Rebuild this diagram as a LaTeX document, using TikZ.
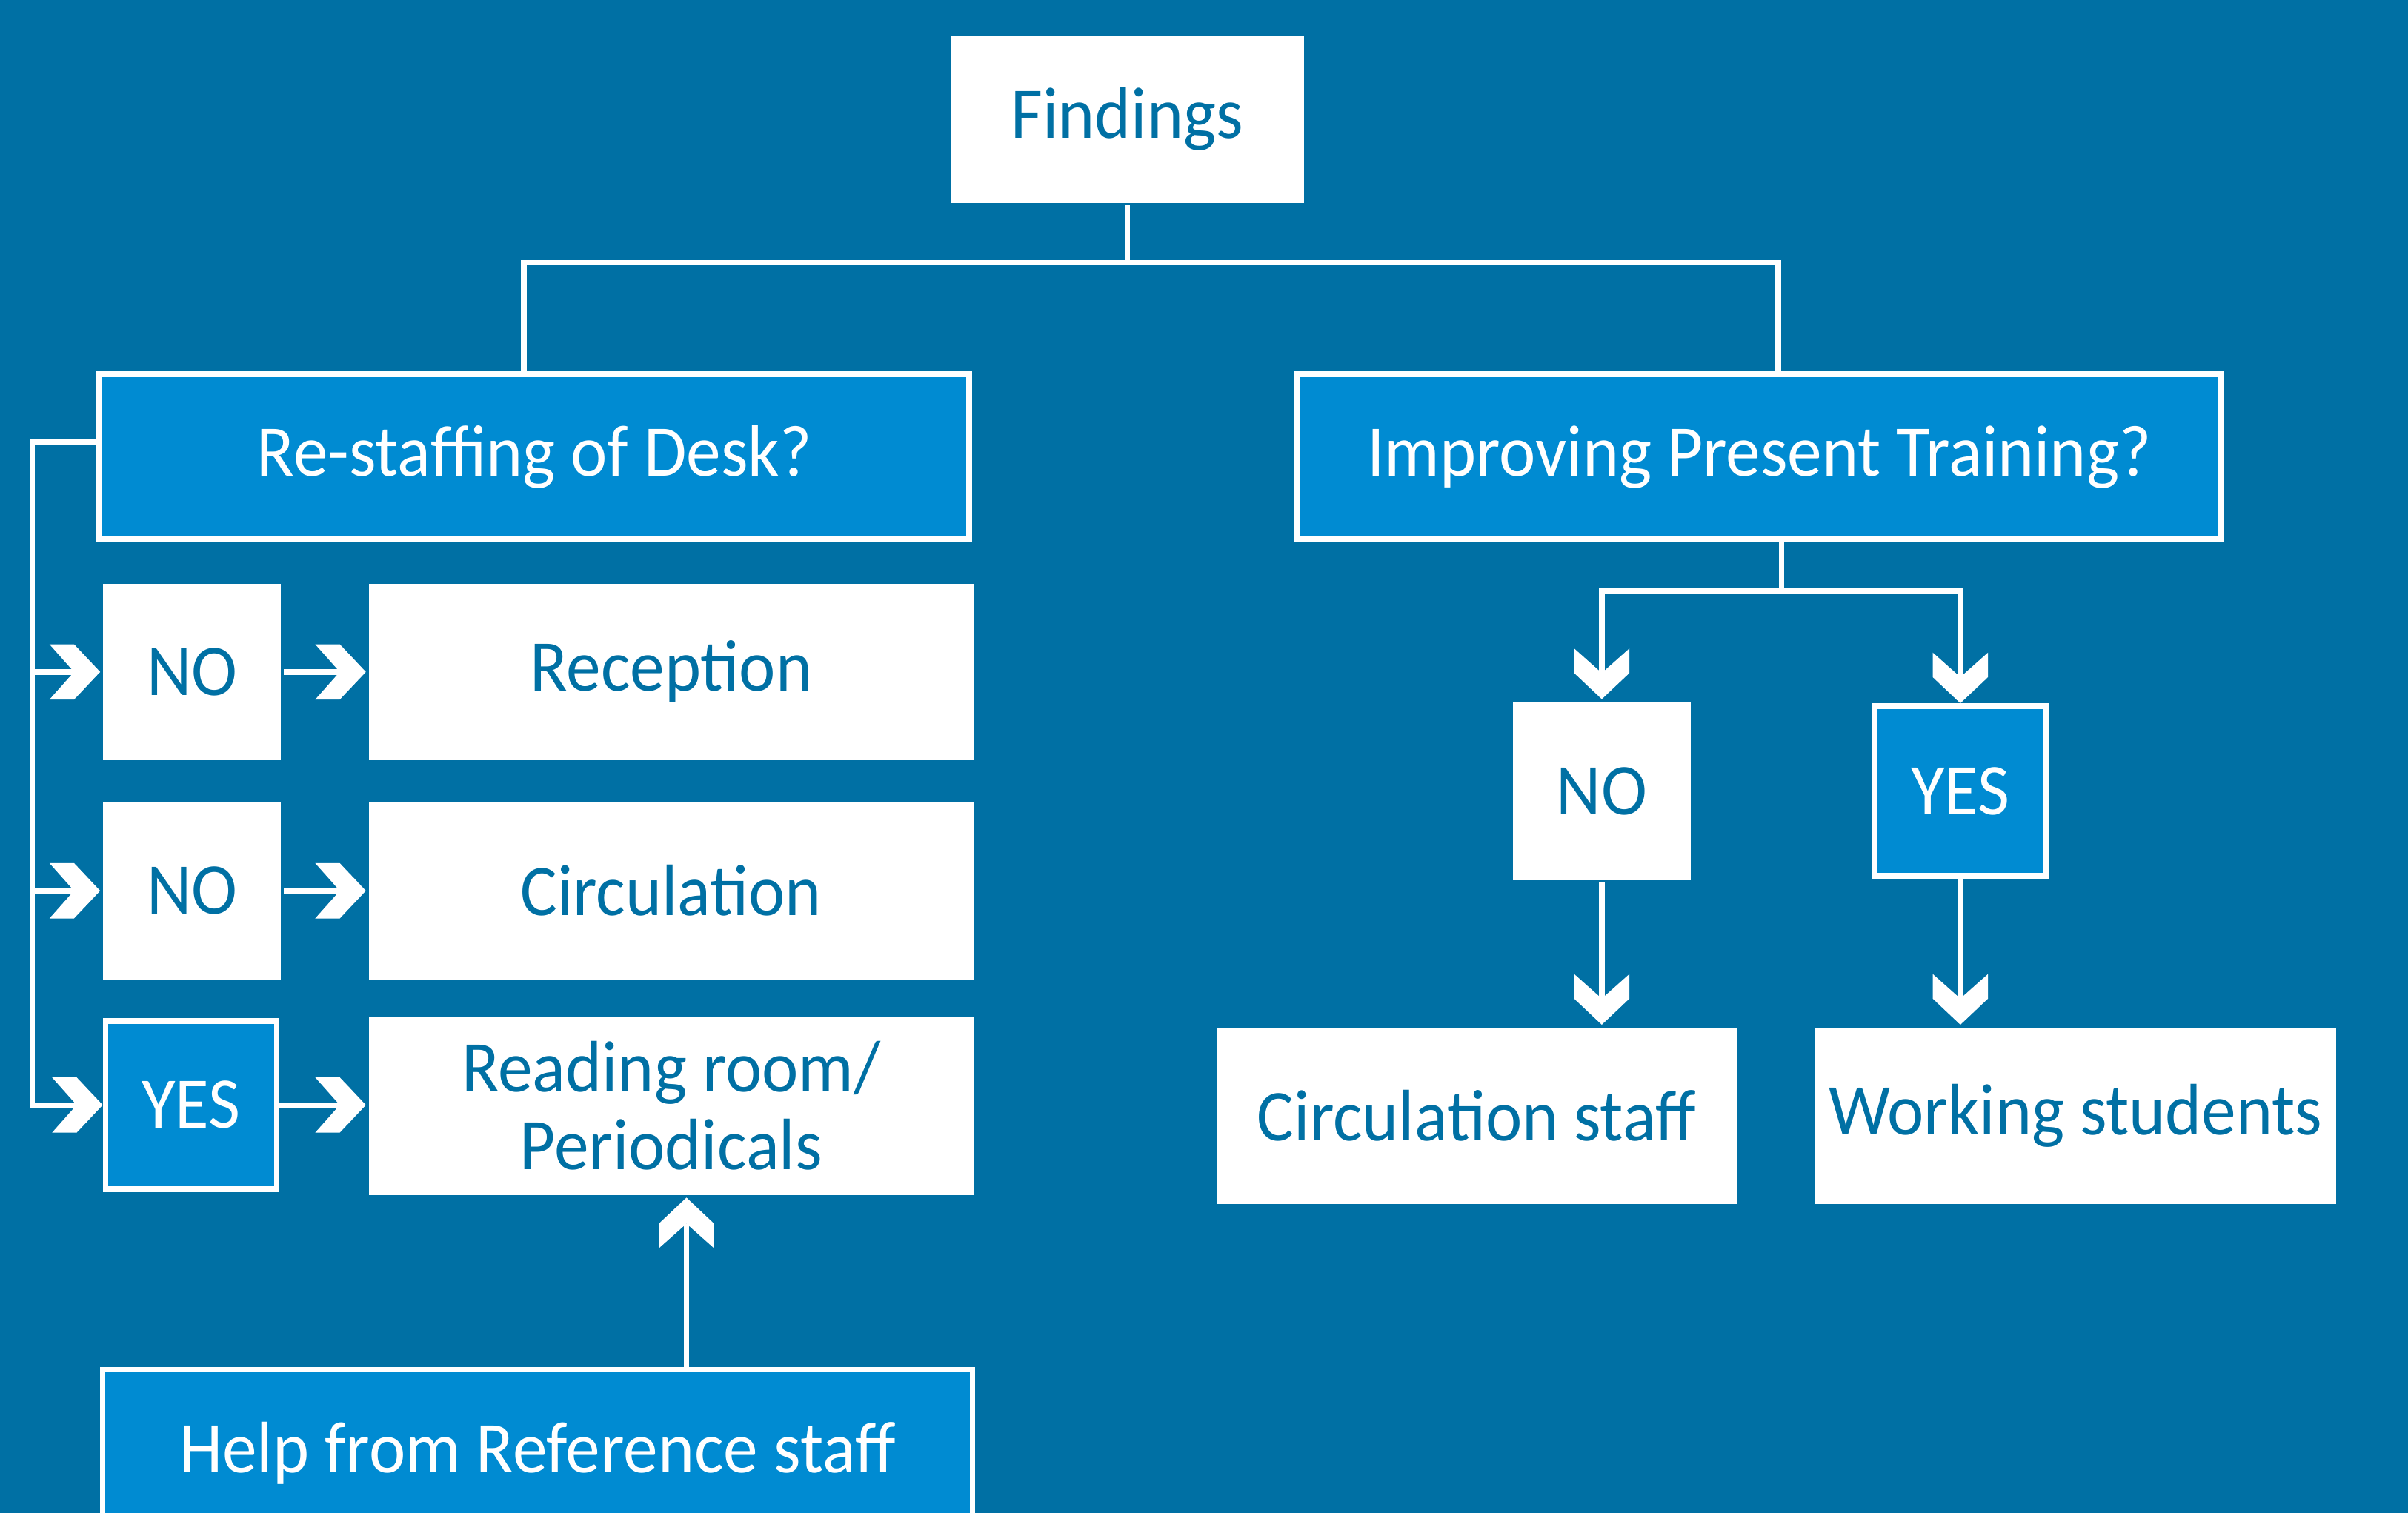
\documentclass[tikz,border=0pt]{standalone}
\usepackage{fontspec}
\setmainfont{Carlito}[FakeStretch=0.95]
\usepackage{tikz}
\usetikzlibrary{arrows}
\definecolor{deepblue}{RGB}{0,112,164}
\definecolor{midblue}{RGB}{0,139,210}

\pgfdeclarearrow{
  name = chevron,
  setup code = {
    \pgfarrowssettipend{0pt}
    \pgfarrowssetlineend{-3.4mm}
    \pgfarrowshullpoint{0pt}{0pt}
    \pgfarrowsupperhullpoint{-6.6mm}{3.6mm}
  },
  drawing code = {
    \pgfpathmoveto{\pgfpoint{0pt}{0pt}}
    \pgfpathlineto{\pgfpoint{-3.4mm}{3.6mm}}
    \pgfpathlineto{\pgfpoint{-6.6mm}{3.6mm}}
    \pgfpathlineto{\pgfpoint{-3.4mm}{0pt}}
    \pgfpathlineto{\pgfpoint{-6.6mm}{-3.6mm}}
    \pgfpathlineto{\pgfpoint{-3.4mm}{-3.6mm}}
    \pgfpathclose
    \pgfusepathqfill
  }
}

\begin{document}
\begin{tikzpicture}[x=0.02cm, y=-0.02cm, >=chevron, line width=0.072cm]
\useasboundingbox (0,0) rectangle (1568,985);
\fill[deepblue] (0,0) rectangle (1568,985);
\tikzstyle{every node} = [rectangle, inner sep=0cm, align=center, font=\fontsize{27}{29}\selectfont]
\tikzstyle{pale} = [fill=white, text=deepblue]
\tikzstyle{dark} = [fill=midblue, draw=white, text=white, line width=0.075cm]
\node[pale, minimum width=4.6cm, minimum height=2.18cm] (fi) at (734,77.5) {Findings};
\node[dark, minimum width=11.33cm, minimum height=2.15cm] (rsd) at (348,297.5) {Re-staffing of Desk?};
\node[dark, minimum width=12.03cm, minimum height=2.15cm] (ipt) at (1145.5,297.5) {Improving Present Training?};
% left column
\node[pale, minimum width=2.32cm, minimum height=2.3cm] (no1) at (125,437.5) {NO};
\node[pale, minimum width=7.88cm, minimum height=2.3cm] (rec) at (437,437.5) {Reception};
\node[pale, minimum width=2.32cm, minimum height=2.32cm] (no2) at (125,580) {NO};
\node[pale, minimum width=7.88cm, minimum height=2.32cm] (cir) at (437,580) {Circulation};
\node[dark, minimum width=2.23cm, minimum height=2.19cm] (yes1) at (124.5,719.5) {YES};
\node[pale, minimum width=7.88cm, minimum height=2.32cm] (rrp) at (437,720) {Reading room/\\Periodicals};
\node[dark, minimum width=11.33cm, minimum height=2.17cm] (hrs) at (350,946) {Help from Reference staff};
% right column
\node[pale, minimum width=2.32cm, minimum height=2.32cm] (nor) at (1043,515) {NO};
\node[dark, minimum width=2.23cm, minimum height=2.21cm] (yesr) at (1276.5,515) {YES};
\node[pale, minimum width=6.78cm, minimum height=2.3cm] (cst) at (961.5,726.5) {Circulation staff};
\node[pale, minimum width=6.78cm, minimum height=2.3cm] (wst) at (1351.5,726.5) {Working students};
\coordinate (bl) at (341,171);
\coordinate (br) at (1158,171);
\coordinate (rl) at (21,288);
\coordinate (rr) at (1160,385);
\coordinate (up) at (447,0);
\draw[white] (fi.south) -- (fi.south |- bl);
\draw[white] (bl |- rsd.north) -- (bl) -- (br) -- (br |- ipt.north);
\draw[white, ->] (rsd.west |- rl) -- (rl) |- (yes1.west);
\draw[white, ->] (rl |- no1) -- (no1.west);
\draw[white, ->] (rl |- no2) -- (no2.west);
\draw[white, ->] (no1) -- (rec);
\draw[white, ->] (no2) -- (cir);
\draw[white, ->] (yes1.east) -- (rrp.west |- yes1.east);
\draw[white, ->] (hrs.north -| up) -- (rrp.south -| up);
\draw[white] (ipt.south -| rr) -- (rr);
\draw[white, ->] (rr) -| (nor);
\draw[white, ->] (rr) -| (yesr);
\draw[white, ->] (nor.south) -- (nor.south |- cst.north);
\draw[white, ->] (yesr.south) -- (yesr.south |- wst.north);
\end{tikzpicture}
\end{document}
